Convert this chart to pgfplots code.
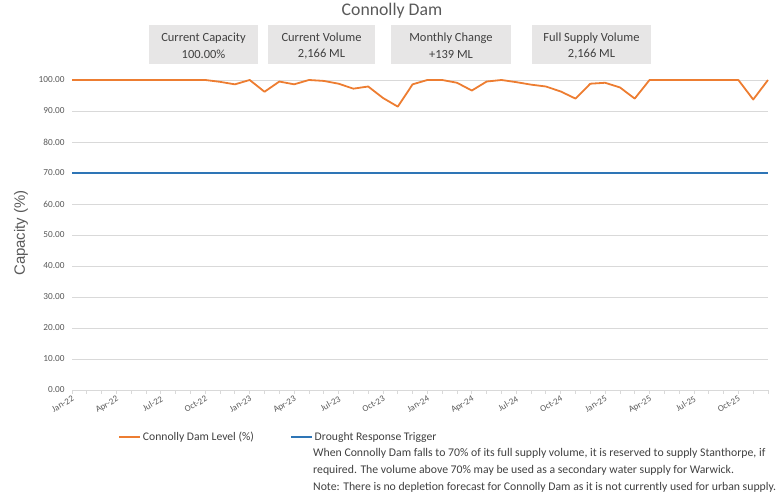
\documentclass[border=0pt]{standalone}
\usepackage{fontspec}
\setmainfont{Carlito}
\newfontfamily\arialfont{Liberation Sans}
\usepackage{pgfplots}
\pgfplotsset{compat=1.18}

\definecolor{damorange}{HTML}{ED7D31}
\definecolor{trigblue}{HTML}{2E75B6}
\definecolor{gridgray}{HTML}{D9D9D9}
\definecolor{textgray}{HTML}{595959}
\definecolor{boxgray}{HTML}{E7E6E6}
\definecolor{boxtext}{HTML}{404040}

\begin{document}
\begin{tikzpicture}[x=1bp,y=1bp]
\useasboundingbox (0,0) rectangle (783,500);

% title and info boxes
\node[text=textgray, font=\fontsize{17.8}{20}\selectfont] at (392,489) {Connolly Dam};
\foreach \xa/\xb/\la/\lb in {149/258/Current Capacity/100.00\%,
                             268/375/Current Volume/{2,166 ML},
                             391/511/Monthly Change/+139 ML,
                             532/651/Full Supply Volume/{2,166 ML}}{
  \fill[boxgray] (\xa,436) rectangle (\xb,475);
  \node[text=boxtext, font=\fontsize{12.5}{17}\selectfont, align=center]
    at ({(\xa+\xb)/2},454) {\la\\\lb};
}

% y label
\node[text=textgray, rotate=90, font=\arialfont\fontsize{15}{17}\selectfont] at (21,267) {Capacity (\%)};

\begin{axis}[
    at={(72bp,110bp)}, anchor=south west,
    scale only axis, width=696bp, height=310bp,
    xmin=0, xmax=47, ymin=0, ymax=100,
    clip=false,
    axis y line*=left, axis x line*=bottom,
    y axis line style={draw=none},
    x axis line style={gridgray, line width=0.8bp},
    ytick={0,10,...,100},
    ymajorgrids, grid style={gridgray, line width=0.8bp},
    yticklabel style={text=textgray, font=\fontsize{9.3}{11}\selectfont, /pgf/number format/.cd, fixed, fixed zerofill, precision=2, assume math mode=true},
    ytick style={draw=none},
    xtick={0,3,...,45},
    minor xtick={0,1,...,47},
    xticklabels={Jan-22,Apr-22,Jul-22,Oct-22,Jan-23,Apr-23,Jul-23,Oct-23,Jan-24,Apr-24,Jul-24,Oct-24,Jan-25,Apr-25,Jul-25,Oct-25},
    xticklabel style={text=textgray, font=\fontsize{9}{10}\selectfont, rotate=30, anchor=north east, inner sep=1bp},
    tick align=outside,
    major tick length=4bp, minor tick length=4bp,
    xtick style={gridgray, line width=0.8bp},
    legend style={at={(axis description cs:0.066,-0.152)}, anchor=west, draw=none, fill=none,
        legend columns=2, font=\fontsize{11.7}{13}\selectfont, text=boxtext,
        /tikz/every even column/.append style={column sep=34bp},
        inner sep=0pt},
    legend image code/.code={\draw[#1] (0bp,0bp) -- (21bp,0bp);},
]
\addplot[damorange, line width=1.8bp, line join=round] coordinates {
(0,100) (1,100) (2,100) (3,100) (4,100) (5,100) (6,100) (7,100) (8,100) (9,100)
(10,99.4) (11,98.6) (12,100) (13,96.2) (14,99.5) (15,98.6) (16,100) (17,99.7)
(18,98.8) (19,97.2) (20,97.9) (21,94.2) (22,91.4) (23,98.6) (24,100) (25,100)
(26,99.1) (27,96.6) (28,99.5) (29,100) (30,99.3) (31,98.5) (32,97.9) (33,96.3)
(34,94.0) (35,98.8) (36,99.1) (37,97.6) (38,94.0) (39,100) (40,100) (41,100)
(42,100) (43,100) (44,100) (45,100) (46,93.7) (47,100)
};
\addlegendentry{Connolly Dam Level (\%)}
\addplot[trigblue, line width=1.8bp] coordinates {(0,70) (47,70)};
\addlegendentry{Drought Response Trigger}
\end{axis}

% note
\node[anchor=north west, align=left, text=boxtext, font=\fontsize{11.8}{17}\selectfont, inner sep=0pt]
  at (313,52) {When Connolly Dam falls to 70\% of its full supply volume, it is reserved to supply Stanthorpe, if\\
required. The volume above 70\% may be used as a secondary water supply for Warwick.\\
Note: There is no depletion forecast for Connolly Dam as it is not currently used for urban supply.};
\end{tikzpicture}
\end{document}
